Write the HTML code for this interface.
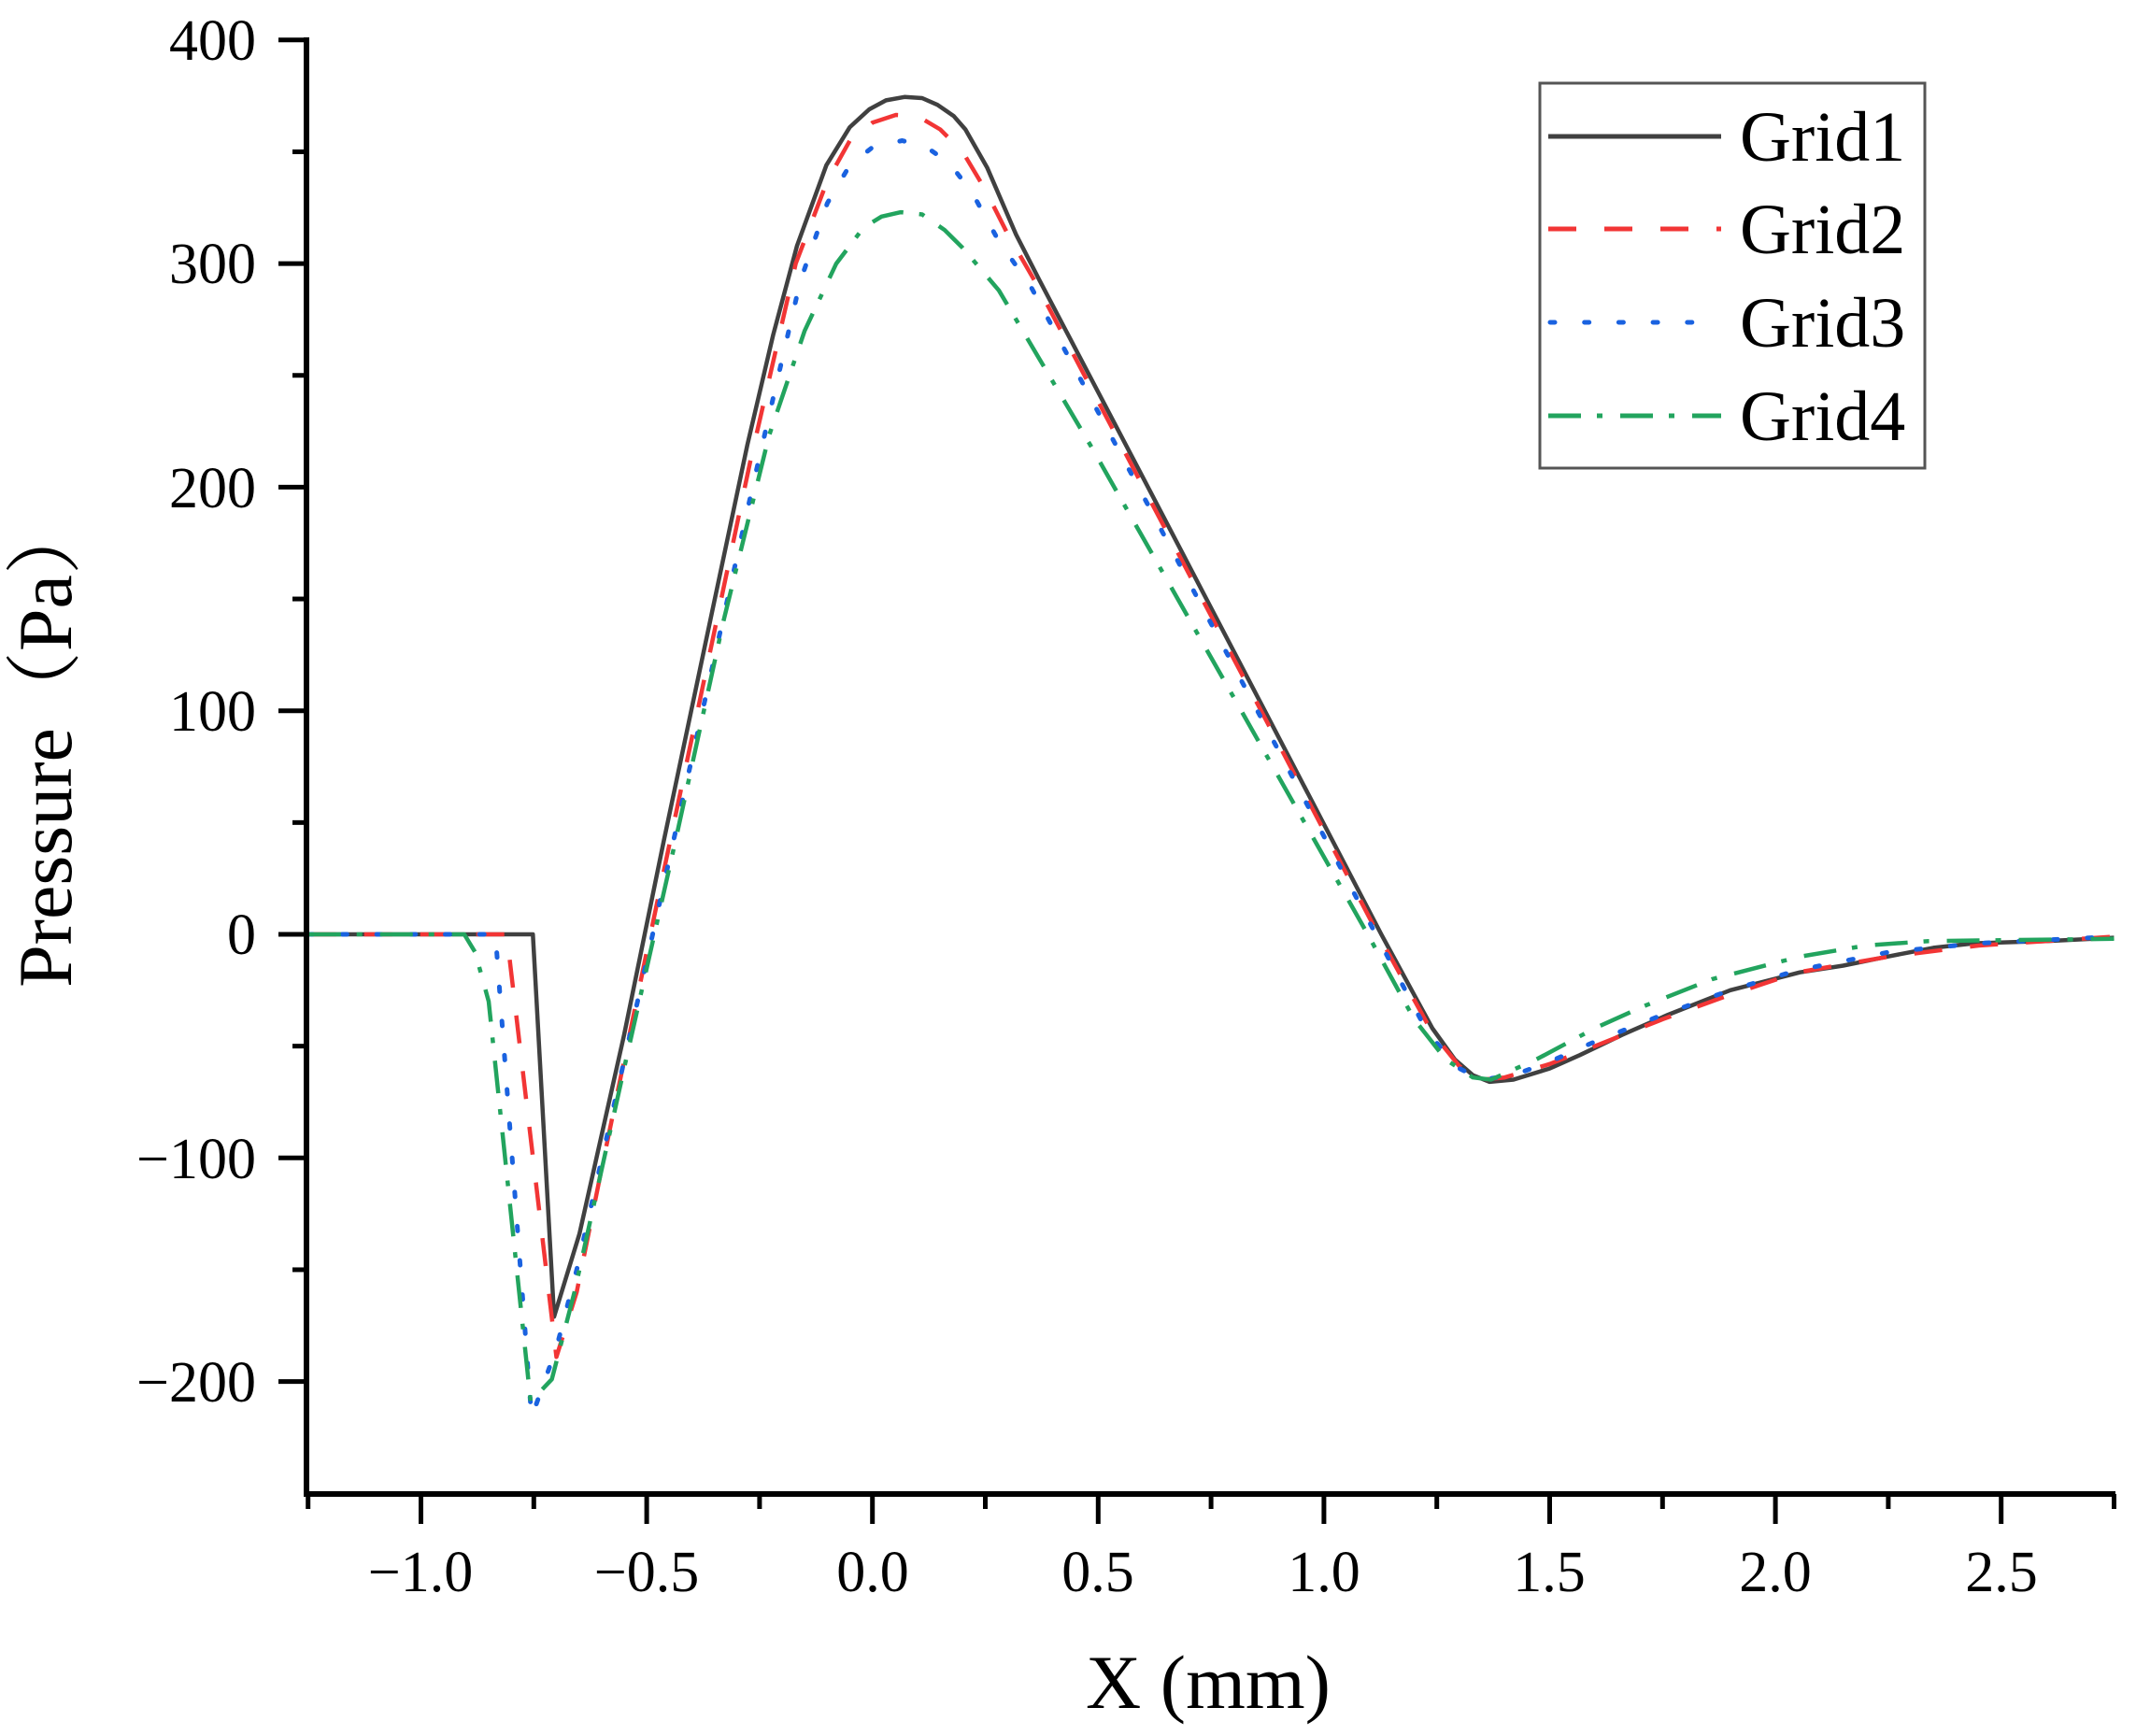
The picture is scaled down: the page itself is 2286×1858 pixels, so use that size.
<!DOCTYPE html>
<html><head><meta charset="utf-8"><style>
html,body{margin:0;padding:0;background:#fff;}
svg{display:block;}
text{font-family:"Liberation Serif","Noto Serif CJK SC",serif;fill:#000;}
</style></head><body>
<svg id="s" width="2286" height="1858" viewBox="0 0 2286 1858" xmlns="http://www.w3.org/2000/svg">
<rect width="2286" height="1858" fill="#fff"/>
<g id="ticks" stroke="#000" stroke-width="5"></g>
<g id="series" fill="none" stroke-linejoin="round"></g>
<line x1="328" y1="40" x2="328" y2="1602" stroke="#000" stroke-width="6"/>
<line x1="325" y1="1599" x2="2264" y2="1599" stroke="#000" stroke-width="6"/>
<g font-size="62" text-anchor="end">
<text x="274" y="64">400</text>
<text x="274" y="303">300</text>
<text x="274" y="543">200</text>
<text x="274" y="782">100</text>
<text x="274" y="1021">0</text>
<text x="274" y="1261">−100</text>
<text x="274" y="1500">−200</text>
</g>
<g font-size="62" text-anchor="middle">
<text x="450" y="1703">−1.0</text>
<text x="692" y="1703">−0.5</text>
<text x="934" y="1703">0.0</text>
<text x="1175" y="1703">0.5</text>
<text x="1417" y="1703">1.0</text>
<text x="1658" y="1703">1.5</text>
<text x="1900" y="1703">2.0</text>
<text x="2142" y="1703">2.5</text>
</g>
<text x="1293" y="1828" font-size="82" text-anchor="middle">X (mm)</text>
<text transform="translate(76,795) rotate(-90)" font-size="82" text-anchor="middle">Pressure（Pa）</text>
<rect x="1648" y="89" width="412" height="412" fill="#fff" stroke="#555" stroke-width="3"/>
<line x1="1657" y1="146" x2="1842" y2="146" stroke="#404040" stroke-width="5"/>
<line x1="1657" y1="245" x2="1842" y2="245" stroke="#f23535" stroke-width="5" stroke-dasharray="30 30"/>
<line x1="1659" y1="345" x2="1842" y2="345" stroke="#1a62e0" stroke-width="5" stroke-dasharray="5 31.7" stroke-linecap="round"/>
<line x1="1657" y1="445" x2="1842" y2="445" stroke="#22a45e" stroke-width="5" stroke-dasharray="35 17 6 19"/>
<g font-size="76">
<text x="1862" y="172">Grid1</text>
<text x="1862" y="271">Grid2</text>
<text x="1862" y="371">Grid3</text>
<text x="1862" y="471">Grid4</text>
</g>
</svg>
<script>
var NS="http://www.w3.org/2000/svg";
function px(x){return 329.7+(x+1.25)*483.2;}
function py(y){return 1000-y*2.393;}
var tk=document.getElementById('ticks');
function L(x1,y1,x2,y2){var l=document.createElementNS(NS,'line');l.setAttribute('x1',x1);l.setAttribute('y1',y1);l.setAttribute('x2',x2);l.setAttribute('y2',y2);tk.appendChild(l);}
for(var v=-1.25;v<=2.751;v+=0.25){var X=px(v);var major=Math.abs(Math.round(v*2)-v*2)<1e-6;L(X,1599,X,1599+(major?32:16));}
for(var v=-200;v<=400;v+=50){var Y=py(v);var major=v%100===0;L(328,Y,328-(major?30:15),Y);}
var S=[
{c:"#404040",d:"",w:4.5,p:[[-1.25,0],[-0.752,0],[-0.705,-171],[-0.649,-134],[-0.55,-45],[-0.462,42],[-0.37,130],[-0.277,219],[-0.22,268],[-0.167,308],[-0.102,344],[-0.05,361],[-0.007,369],[0.03,373],[0.071,374.5],[0.11,374],[0.144,371],[0.18,366],[0.206,360],[0.254,343],[0.318,313],[0.37,292.5],[0.6,204],[0.9,88],[1.127,0],[1.24,-42],[1.29,-56],[1.33,-63],[1.367,-66],[1.42,-65],[1.5,-60],[1.567,-54],[1.66,-45],[1.762,-36],[1.9,-25],[2.054,-17],[2.15,-14],[2.247,-10],[2.35,-6],[2.44,-4],[2.6,-3],[2.75,-1.5]]},
{c:"#f23535",d:"30 30",w:4.5,p:[[-1.25,0],[-0.81,0],[-0.70,-189],[-0.655,-160],[-0.60,-105],[-0.5,-8],[-0.45,40],[-0.27,212],[-0.17,300],[-0.1,337],[-0.05,355],[0,363],[0.052,366.5],[0.1,366],[0.15,360],[0.2,350],[0.25,333],[0.3,313],[0.36,292],[0.6,200],[0.9,85],[1.12,0],[1.24,-44],[1.3,-59],[1.35,-65],[1.4,-64],[1.5,-58],[1.6,-50],[1.75,-38],[1.9,-27],[2.05,-17],[2.25,-10],[2.45,-5],[2.75,-1]]},
{c:"#1a62e0",d:"5 31.7",w:5,cap:"round",p:[[-1.25,0],[-0.835,0],[-0.755,-216],[-0.70,-185],[-0.655,-150],[-0.5,-12],[-0.445,38],[-0.26,205],[-0.16,292],[-0.1,327],[-0.05,344],[0,352],[0.066,355],[0.12,352],[0.17,345],[0.22,332],[0.28,310],[0.35,290],[0.6,196],[0.9,82],[1.115,0],[1.23,-44],[1.3,-60],[1.35,-65],[1.42,-63],[1.5,-57],[1.6,-48],[1.75,-36],[1.9,-25],[2.05,-16],[2.25,-8],[2.45,-4],[2.75,-1]]},
{c:"#22a45e",d:"35 17 6 19",w:4.5,p:[[-1.25,0],[-0.904,0],[-0.88,-8],[-0.85,-30],[-0.757,-209],[-0.71,-199],[-0.66,-160],[-0.55,-60],[-0.436,42],[-0.33,140],[-0.229,223],[-0.15,270],[-0.08,300],[-0.02,316],[0.02,321],[0.063,323],[0.11,322],[0.16,315],[0.2,307],[0.28,288],[0.483,218.7],[0.8,106],[1.097,0],[1.2,-38],[1.27,-56],[1.33,-64],[1.37,-65],[1.47,-56],[1.6,-42],[1.71,-32],[1.86,-20],[2.054,-10],[2.2,-5],[2.34,-3],[2.75,-2]]}
];
var g=document.getElementById('series');
S.forEach(function(s){var pl=document.createElementNS(NS,'polyline');
pl.setAttribute('points',s.p.map(function(q){return px(q[0]).toFixed(1)+","+py(q[1]).toFixed(1);}).join(" "));
pl.setAttribute('stroke',s.c);pl.setAttribute('stroke-width',s.w);
if(s.d)pl.setAttribute('stroke-dasharray',s.d);
if(s.cap)pl.setAttribute('stroke-linecap',s.cap);
g.appendChild(pl);});
</script>
</body></html>
